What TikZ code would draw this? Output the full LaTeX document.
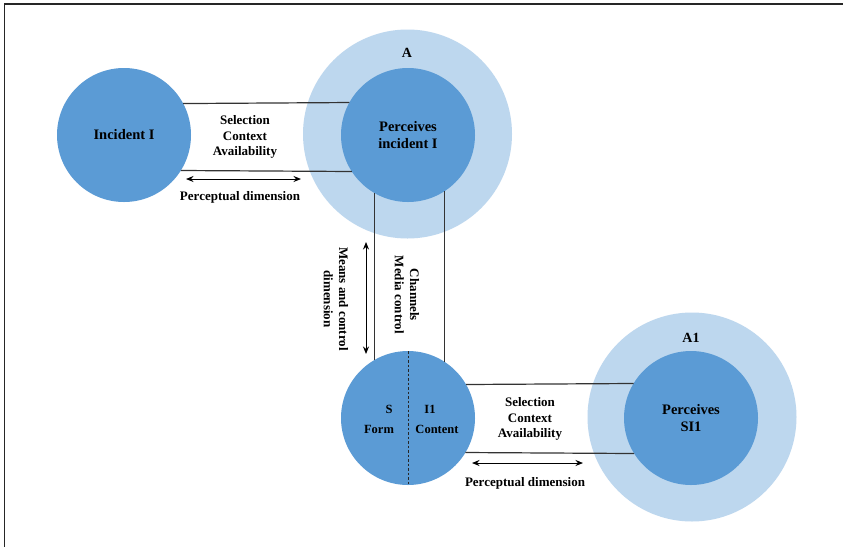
\documentclass[tikz,border=0pt]{standalone}
\usepackage{fontspec}
\setmainfont{Liberation Serif}
\usetikzlibrary{arrows.meta}
\definecolor{dblue}{HTML}{5B9BD5}
\definecolor{lblue}{HTML}{BDD7EE}
\definecolor{lgray}{HTML}{333333}
\tikzset{
  inner/.style={circle, fill=dblue, draw=none, outer sep=0pt, minimum size=134pt, inner sep=0pt, align=center, font=\bfseries\fontsize{14.5}{17}\selectfont},
  outer/.style={circle, fill=lblue, draw=none, outer sep=0pt, minimum size=209pt, inner sep=0pt},
  lbl/.style={align=center, inner sep=0pt, font=\bfseries\fontsize{13}{15.2}\selectfont},
  sml/.style={inner sep=0pt, font=\bfseries\fontsize{12.5}{15}\selectfont},
  big/.style={inner sep=0pt, font=\bfseries\fontsize{14}{16}\selectfont},
  conn/.style={draw=lgray, line width=1.2pt},
  dim/.style={draw=black, line width=1pt, {Stealth[length=7.5pt,width=6pt]}-{Stealth[length=7.5pt,width=6pt]}},
  frame/.style={draw=black!85, line width=1.8pt}
}
\begin{document}
\begin{tikzpicture}[x=1pt,y=-1pt]
\useasboundingbox (0,0) rectangle (843,547);
\fill[white] (0,0) rectangle (843,547);
% partial frame
\coordinate (f1) at (843,3.7);
\coordinate (f2) at (4.5,3.7);
\coordinate (f3) at (4.5,547);
\draw[frame] (f1) -- (f2) -- (f3);

% circles
\node[outer] (Aout) at (407.5,134) {};
\node[outer] (A1out) at (692,417) {};
\node[inner] (inc) at (124,135) {Incident I};
\node[inner] (Ain) at (408,135) {Perceives\\incident I};
\node[inner] (S) at (408,418) {};
\node[inner] (A1in) at (691,418) {Perceives\\SI1};

\node[big] (Alab) at (407,53) {A};
\node[big] (A1lab) at (691,338) {A1};

% dashed divider
\draw[black!85, line width=1pt, dash pattern=on 2.5pt off 2pt] (S.north) -- (S.south);
\node[sml] (Slab) at (389,409) {S};
\node[sml] (Ilab) at (430,409) {I1};
\node[sml] (Form) at (379,429) {Form};
\node[sml] (Cont) at (437,429) {Content};

% connectors top-left
\draw[conn] (inc.28.5) -- (Ain.151.5);
\draw[conn] (inc.-32.5) -- (Ain.-147.5);
\node[lbl] (sca1) at (245,137) {Selection\\Context\\Availability};
\coordinate (pa1) at (186,179);
\coordinate (pa2) at (301,179);
\draw[dim] (pa1) -- (pa2);
\node[lbl] (pd1) at (240,197) {Perceptual dimension};

% vertical connectors
\draw[conn] (Ain.-120.5) -- (S.120.5);
\draw[conn] (Ain.-57.5) -- (S.57.5);
\coordinate (va1) at (366,242);
\coordinate (va2) at (366,354);
\draw[dim] (va1) -- (va2);
\node[lbl, rotate=-90] (mcd) at (336,299) {Means and control\\dimension};
\node[lbl, rotate=-90] (cmc) at (407,295) {Channels\\Media control};

% bottom connectors
\draw[conn] (S.30.5) -- (A1in.149.5);
\draw[conn] (S.-31.5) -- (A1in.-148.5);
\node[lbl] (sca2) at (530,419) {Selection\\Context\\Availability};
\coordinate (pb1) at (472,463);
\coordinate (pb2) at (583,463);
\draw[dim] (pb1) -- (pb2);
\node[lbl] (pd2) at (525,483) {Perceptual dimension};
\end{tikzpicture}
\end{document}
